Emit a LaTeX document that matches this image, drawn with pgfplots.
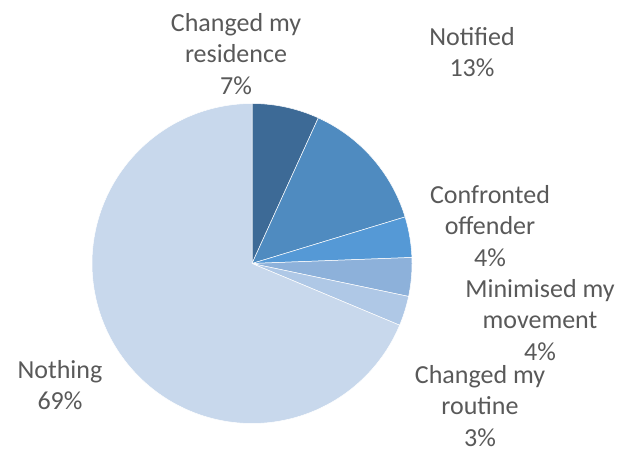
\documentclass[border=0pt]{standalone}
\usepackage{pgfplots}
\pgfplotsset{compat=1.18}
\usepackage{fontspec}
\setmainfont{Carlito}
\definecolor{cA}{HTML}{3D6A96}
\definecolor{cB}{HTML}{4F8BC0}
\definecolor{cC}{HTML}{5599D6}
\definecolor{cD}{HTML}{8DB1DA}
\definecolor{cE}{HTML}{AFC8E6}
\definecolor{cF}{HTML}{C8D8EC}
\definecolor{txt}{HTML}{595959}
% slice shares (percent), clockwise from 12 o'clock
\def\pA{6.8}  % Changed my residence
\def\pB{13.5} % Notified
\def\pC{4.1}  % Confronted offender
\def\pD{3.9}  % Minimised my movement
\def\pE{3.0}  % Changed my routine
\def\pF{68.7} % Nothing
\begin{document}
\begin{tikzpicture}[x=1pt,y=1pt]
\useasboundingbox (0,0) rectangle (623,452);
\pgfmathsetmacro\aA{90}
\pgfmathsetmacro\aB{\aA-3.6*\pA}
\pgfmathsetmacro\aC{\aB-3.6*\pB}
\pgfmathsetmacro\aD{\aC-3.6*\pC}
\pgfmathsetmacro\aE{\aD-3.6*\pD}
\pgfmathsetmacro\aF{\aE-3.6*\pE}
\pgfmathsetmacro\aG{\aF-3.6*\pF}
\begin{axis}[at={(252pt,188.5pt)}, anchor=center, width=320pt, height=320pt,
  scale only axis, xmin=-1, xmax=1, ymin=-1, ymax=1, hide axis, clip=false]
\addplot[fill=cA, draw=white, line width=0.5pt, domain=\aB:\aA, samples=40, variable=\t] ({cos(\t)},{sin(\t)}) -- (axis cs:0,0) -- cycle;
\addplot[fill=cB, draw=white, line width=0.5pt, domain=\aC:\aB, samples=60, variable=\t] ({cos(\t)},{sin(\t)}) -- (axis cs:0,0) -- cycle;
\addplot[fill=cC, draw=white, line width=0.5pt, domain=\aD:\aC, samples=20, variable=\t] ({cos(\t)},{sin(\t)}) -- (axis cs:0,0) -- cycle;
\addplot[fill=cD, draw=white, line width=0.5pt, domain=\aE:\aD, samples=20, variable=\t] ({cos(\t)},{sin(\t)}) -- (axis cs:0,0) -- cycle;
\addplot[fill=cE, draw=white, line width=0.5pt, domain=\aF:\aE, samples=20, variable=\t] ({cos(\t)},{sin(\t)}) -- (axis cs:0,0) -- cycle;
\addplot[fill=cF, draw=white, line width=0.5pt, domain=\aG:\aF, samples=200, variable=\t] ({cos(\t)},{sin(\t)}) -- (axis cs:0,0) -- cycle;
\end{axis}
\tikzset{lbl/.style={align=center, inner sep=0pt, text=txt, font=\fontsize{26}{31.5}\selectfont}}
\node[lbl] at (236,398) {Changed my\\residence\\7\%};
\node[lbl] at (472,400) {Notified\\13\%};
\node[lbl] at (490,226) {Confronted\\offender\\4\%};
\node[lbl] at (540,132) {Minimised my\\movement\\4\%};
\node[lbl] at (480,46) {Changed my\\routine\\3\%};
\node[lbl] at (60,67) {Nothing\\69\%};
\end{tikzpicture}
\end{document}
